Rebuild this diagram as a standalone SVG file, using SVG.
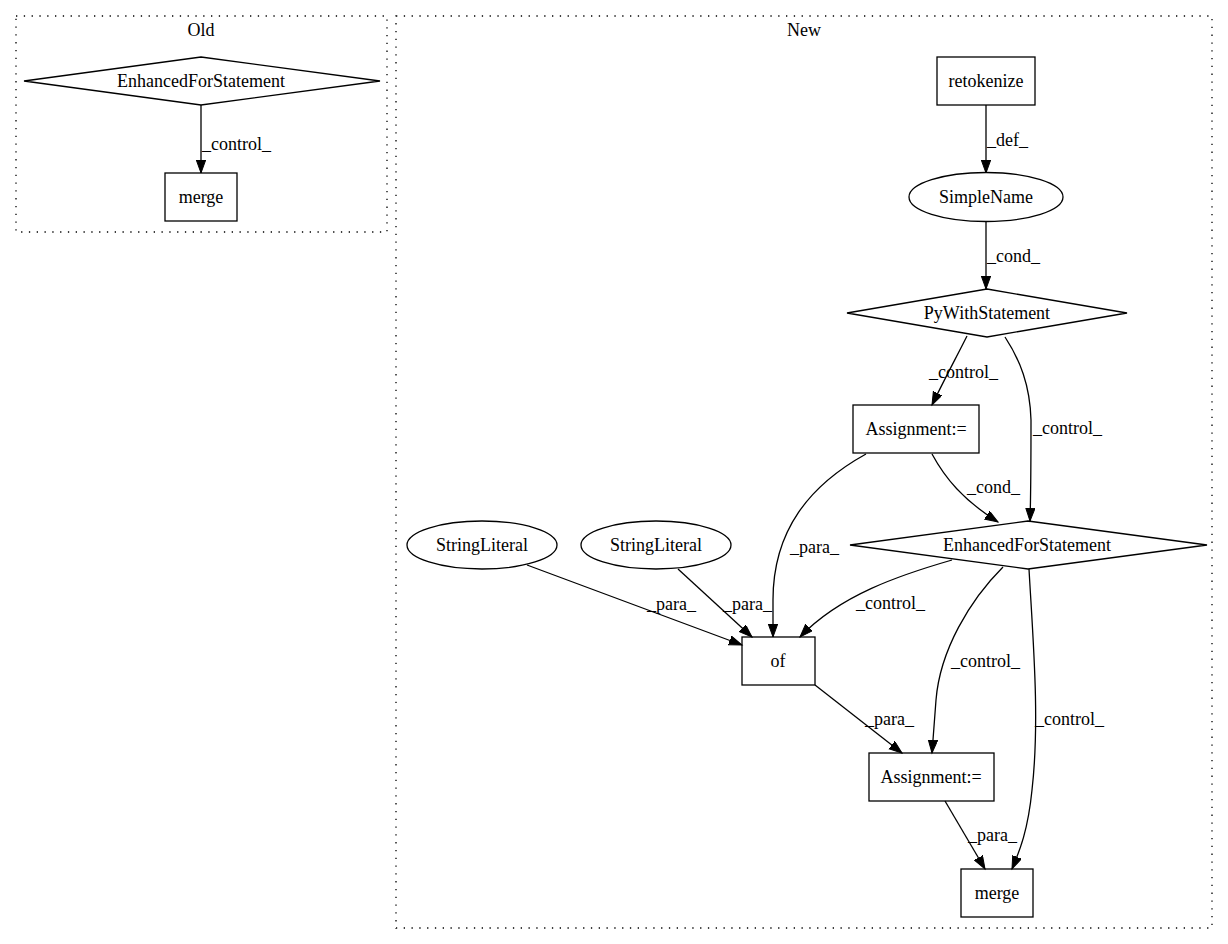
<svg xmlns="http://www.w3.org/2000/svg" width="1228" height="944" viewBox="0 0 1228 944">
<style>
text{font-family:"Liberation Serif","Times New Roman",serif;font-size:18px;fill:#000}
.n{fill:none;stroke:#000;stroke-width:1.3}
.c{fill:none;stroke:#000;stroke-width:1.3;stroke-dasharray:1.3,6.5}
.e{fill:none;stroke:#000;stroke-width:1.3;marker-end:url(#a)}
.m{text-anchor:middle}
</style>
<defs>
<marker id="a" markerUnits="userSpaceOnUse" markerWidth="15" markerHeight="12" refX="13" refY="4.7" orient="auto">
<polygon points="0,0 13,4.7 0,9.4" fill="#000" stroke="#000"/>
</marker>
</defs>
<rect width="1228" height="944" fill="#fff"/>
<g id="cluster_old">
<rect class="c" x="16" y="16" width="371" height="216"/>
<text class="m" x="201" y="36">Old</text>
</g>
<g id="cluster_new">
<rect class="c" x="396" y="16" width="816" height="912"/>
<text class="m" x="804" y="36">New</text>
</g>
<g id="old_efs">
<polygon class="n" points="201,57 380,81 201,105 24,81"/>
<text class="m" x="201" y="87">EnhancedForStatement</text>
</g>
<g id="old_merge">
<rect class="n" x="165" y="173" width="72" height="48"/>
<text class="m" x="201" y="203">merge</text>
</g>
<g id="retokenize">
<rect class="n" x="937" y="57" width="98" height="48"/>
<text class="m" x="986" y="87">retokenize</text>
</g>
<g id="simplename">
<ellipse class="n" cx="986" cy="197" rx="77" ry="24.5"/>
<text class="m" x="986" y="203">SimpleName</text>
</g>
<g id="pywith">
<polygon class="n" points="987,289 1127,313 987,337 847,313"/>
<text class="m" x="987" y="319">PyWithStatement</text>
</g>
<g id="assign1">
<rect class="n" x="853" y="405" width="126" height="48"/>
<text class="m" x="916" y="435">Assignment:=</text>
</g>
<g id="new_efs">
<polygon class="n" points="1028,521 1207,545 1028,569 850,545"/>
<text class="m" x="1027" y="551">EnhancedForStatement</text>
</g>
<g id="strlit1">
<ellipse class="n" cx="482" cy="545" rx="75" ry="24"/>
<text class="m" x="482" y="551">StringLiteral</text>
</g>
<g id="strlit2">
<ellipse class="n" cx="656" cy="545" rx="75" ry="24"/>
<text class="m" x="656" y="551">StringLiteral</text>
</g>
<g id="of">
<rect class="n" x="742" y="637" width="73" height="48"/>
<text class="m" x="778" y="667">of</text>
</g>
<g id="assign2">
<rect class="n" x="869" y="753" width="125" height="48"/>
<text class="m" x="931" y="783">Assignment:=</text>
</g>
<g id="new_merge">
<rect class="n" x="961" y="869" width="72" height="48"/>
<text class="m" x="997" y="899">merge</text>
</g>
<g id="connectors">
<path class="e" d="M201,105 L201,173"/>
<text x="202" y="150">_control_</text>
<path class="e" d="M986,105 L986,173"/>
<text x="987" y="146">_def_</text>
<path class="e" d="M986,222 L986,289"/>
<text x="987" y="262">_cond_</text>
<path class="e" d="M967,336 C957,356 944,380 932,405"/>
<text x="929" y="378">_control_</text>
<path class="e" d="M1005,337 C1020,360 1030,385 1031,420 C1031,450 1031,490 1030,521"/>
<text x="1033" y="434">_control_</text>
<path class="e" d="M932,454 C945,478 963,500 998,522"/>
<text x="967" y="493">_cond_</text>
<path class="e" d="M866,454 C810,485 773,530 773,600 L773,637"/>
<text x="790" y="553">_para_</text>
<path class="e" d="M952,560 C900,575 840,595 800,637"/>
<text x="856" y="609">_control_</text>
<path class="e" d="M527,565 L742,645"/>
<text x="647" y="610">_para_</text>
<path class="e" d="M678,569 L752,637"/>
<text x="723" y="610">_para_</text>
<path class="e" d="M1003,567 C970,600 940,650 936,700 L932,753"/>
<text x="951" y="667">_control_</text>
<path class="e" d="M1029,569 C1033,640 1040,720 1032,790 C1028,830 1020,850 1012,869"/>
<text x="1035" y="725">_control_</text>
<path class="e" d="M815,685 L902,753"/>
<text x="865" y="725">_para_</text>
<path class="e" d="M945,801 L985,869"/>
<text x="968" y="841">_para_</text>
</g>
</svg>
